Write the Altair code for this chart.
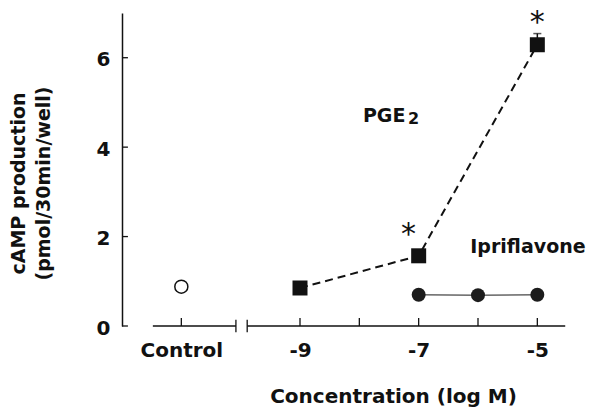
import altair as alt
import pandas as pd

# ---- data ----
x_tick_values = [-11, -9, -7, -5]
x_tick_labels = ["Control", "-9", "-7", "-5"]
minor_ticks = [-11, -9, -8, -7, -6, -5]
y_tick_values = [0, 2, 4, 6]

control_pos = [-11]
control_value = [0.88]

pge_conc = [-9, -7, -5]
pge_value = [0.85, 1.57, 6.29]
pge_err = [0.05, 0.06, 0.25]

ipri_conc = [-7, -6, -5]
ipri_value = [0.70, 0.69, 0.70]

sig_x = [-7.17, -5.0]
sig_y = [2.21, 6.96]

seg_start = [-11.48, -9.89]
seg_end = [-10.08, -4.53]
break_marks = [-10.08, -9.89]

X_DOMAIN = [-12, -4.5]
Y_DOMAIN = [0, 7]
INK = "#111111"
FONT = "DejaVu Sans"

xs = alt.Scale(domain=X_DOMAIN, nice=False, zero=False)
ys = alt.Scale(domain=Y_DOMAIN, nice=False, zero=False)

label_expr = "''"
for v, l in reversed(list(zip(x_tick_values, x_tick_labels))):
    label_expr = f"datum.value == {v} ? '{l}' : ({label_expr})"

x_axis = alt.Axis(
    values=x_tick_values, labelExpr=label_expr, domain=False, ticks=False,
    tickSize=0, grid=False, labelPadding=30, labelBaseline="alphabetic",
    labelFontSize=20, labelFontWeight="bold", labelColor=INK, labelFont=FONT,
    title="Concentration (log M)", titleX=271, titleY=76, titleAlign="center",
    titleBaseline="alphabetic", titleFontSize=20, titleFontWeight="bold",
    titleColor=INK, titleFont=FONT,
)
y_axis = alt.Axis(
    values=y_tick_values, ticks=False, tickSize=0, grid=False, domain=True,
    domainColor=INK, domainWidth=1.5, labelPadding=12, labelFontSize=20,
    labelFontWeight="bold", labelColor=INK, labelFont=FONT, labelOffset=2,
    title=["cAMP production", "(pmol/30min/well)"], titleAngle=270,
    titleX=-98, titleY=170, titleAlign="center", titleBaseline="alphabetic",
    titleLineHeight=25, titleFontSize=19, titleFontWeight="bold",
    titleColor=INK, titleFont=FONT,
)


def X(f):
    return alt.X(f, scale=xs, axis=x_axis)


def Y(f):
    return alt.Y(f, scale=ys, axis=y_axis)


segs = pd.DataFrame({"x": seg_start, "x2": seg_end, "y": [0] * len(seg_start)})
seg_layer = alt.Chart(segs).mark_rule(color=INK, strokeWidth=1.5).encode(
    x=X("x:Q"), x2="x2:Q", y=Y("y:Q"),
)

up = pd.DataFrame({"x": minor_ticks, "y": [0] * len(minor_ticks), "y2": [0.18] * len(minor_ticks)})
up_layer = alt.Chart(up).mark_rule(color=INK, strokeWidth=1.3).encode(
    x=X("x:Q"), y=Y("y:Q"), y2="y2:Q"
)

brk = pd.DataFrame({"x": break_marks, "y": [-0.14] * 2, "y2": [0.14] * 2})
brk_layer = alt.Chart(brk).mark_rule(color=INK, strokeWidth=1.3).encode(
    x=X("x:Q"), y=Y("y:Q"), y2="y2:Q"
)

yt = pd.DataFrame({"y": y_tick_values, "x": [X_DOMAIN[0]] * 4, "x2": [X_DOMAIN[0] + 0.1] * 4})
yt_layer = alt.Chart(yt).mark_rule(color=INK, strokeWidth=1.3).encode(
    x=X("x:Q"), x2="x2:Q", y=Y("y:Q")
)

ipri = pd.DataFrame({"x": ipri_conc, "y": ipri_value})
ipri_line = alt.Chart(ipri).mark_line(color="#666666", strokeWidth=1.5).encode(
    x=X("x:Q"), y=Y("y:Q")
)
ipri_pts = alt.Chart(ipri).mark_point(
    shape="circle", filled=True, size=195, color="#1c1c1c", opacity=1
).encode(x=X("x:Q"), y=Y("y:Q"))

pge = pd.DataFrame({"x": pge_conc, "y": pge_value, "err": pge_err})
pge = pge.assign(top=pge["y"] + pge["err"])
pge_line = alt.Chart(pge).mark_line(color=INK, strokeWidth=2, strokeDash=[8, 5]).encode(
    x=X("x:Q"), y=Y("y:Q")
)
pge_err_rule = alt.Chart(pge).mark_rule(color=INK, strokeWidth=1.5).encode(
    x=X("x:Q"), y=Y("y:Q"), y2="top:Q"
)
pge_cap = alt.Chart(pge).mark_tick(color=INK, orient="horizontal", size=8, thickness=1.5).encode(
    x=X("x:Q"), y=Y("top:Q")
)
pge_pts = alt.Chart(pge).mark_point(
    shape="square", filled=True, size=225, color=INK, opacity=1
).encode(x=X("x:Q"), y=Y("y:Q"))

ctrl = pd.DataFrame({"x": control_pos, "y": control_value})
ctrl_pt = alt.Chart(ctrl).mark_point(
    shape="circle", filled=False, size=170, color=INK, strokeWidth=1.5, fill="white",
    fillOpacity=1, opacity=1,
).encode(x=X("x:Q"), y=Y("y:Q"))

sig = pd.DataFrame({"x": sig_x, "y": sig_y, "t": ["*"] * len(sig_x)})
sig_layer = alt.Chart(sig).mark_text(
    font="DejaVu Sans", fontSize=30, color=INK, baseline="alphabetic", align="center", dy=17
).encode(x=X("x:Q"), y=Y("y:Q"), text="t:N")

labels = pd.DataFrame({
    "x": [-7.94, -7.18, -6.13],
    "y": [4.56, 4.52, 1.63],
    "t": ["PGE", "2", "Ipriflavone"],
    "s": [19, 16, 19],
})
label_layer = alt.Chart(labels).mark_text(
    font=FONT, fontWeight="bold", color=INK, baseline="alphabetic", align="left"
).encode(
    x=X("x:Q"), y=Y("y:Q"),
    text="t:N", size=alt.Size("s:Q", scale=None, legend=None),
)

chart = alt.layer(
    seg_layer, up_layer, brk_layer, yt_layer,
    ipri_line, ipri_pts, pge_line, pge_err_rule, pge_cap, pge_pts, ctrl_pt,
    sig_layer, label_layer,
).properties(
    width=445, height=313,
    autosize=alt.AutoSizeParams(type="none"),
    padding={"left": 122, "top": 13, "right": 27, "bottom": 81},
    background="white",
).configure_view(stroke=None)

chart.save("out.html", embed_options={"renderer": "svg", "actions": False})
